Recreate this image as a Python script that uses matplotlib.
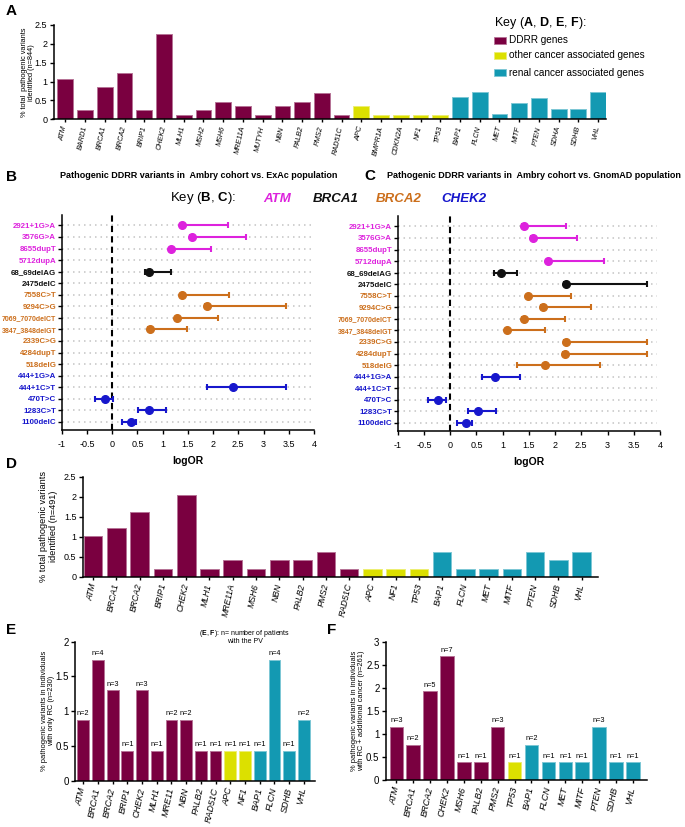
import numpy as np
import matplotlib
matplotlib.use("Agg")
import matplotlib.pyplot as plt
from matplotlib.patches import Rectangle

plt.rcParams['font.family'] = ['Liberation Sans', 'DejaVu Sans']
plt.rcParams['mathtext.fontset'] = 'custom'
plt.rcParams['mathtext.rm'] = 'Liberation Sans'
plt.rcParams['mathtext.bf'] = 'Liberation Sans:bold'
plt.rcParams['mathtext.it'] = 'Liberation Sans:italic'

# colours
ddrr_col = "#7a0040"
other_col = "#dce000"
renal_col = "#1399b2"
group_col = {"ddrr": ddrr_col, "other": other_col, "renal": renal_col}
gene_col = {"ATM": "#dd22dd", "BRCA1": "#111111", "BRCA2": "#cc6f1c", "CHEK2": "#1717cc"}

# panel A
a_genes = ['ATM', 'BARD1', 'BRCA1', 'BRCA2', 'BRIP1', 'CHEK2', 'MLH1', 'MSH2', 'MSH6', 'MRE11A',
           'MUTYH', 'NBN', 'PALB2', 'PMS2', 'RAD51C', 'APC', 'BMPR1A', 'CDKN2A', 'NF1', 'TP53',
           'BAP1', 'FLCN', 'MET', 'MITF', 'PTEN', 'SDHA', 'SDHB', 'VHL']
a_vals = [1.07, 0.24, 0.85, 1.23, 0.24, 2.25, 0.12, 0.24, 0.47, 0.36,
          0.12, 0.36, 0.47, 0.71, 0.12, 0.36, 0.12, 0.12, 0.12, 0.12,
          0.60, 0.72, 0.13, 0.42, 0.57, 0.27, 0.27, 0.72]
a_groups = ['ddrr'] * 15 + ['other'] * 5 + ['renal'] * 8

# panel D
d_genes = ['ATM', 'BRCA1', 'BRCA2', 'BRIP1', 'CHEK2', 'MLH1', 'MRE11A', 'MSH6', 'NBN', 'PALB2',
           'PMS2', 'RAD51C', 'APC', 'NF1', 'TP53', 'BAP1', 'FLCN', 'MET', 'MITF', 'PTEN', 'SDHB', 'VHL']
d_vals = [1.02, 1.22, 1.63, 0.20, 2.04, 0.20, 0.41, 0.20, 0.41, 0.41,
          0.61, 0.20, 0.20, 0.20, 0.20, 0.61, 0.20, 0.20, 0.20, 0.61, 0.41, 0.61]
d_groups = ['ddrr'] * 12 + ['other'] * 3 + ['renal'] * 7

# panel E
e_genes = ['ATM', 'BRCA1', 'BRCA2', 'BRIP1', 'CHEK2', 'MLH1', 'MRE11', 'NBN', 'PALB2', 'RAD51C',
           'APC', 'NF1', 'BAP1', 'FLCN', 'SDHB', 'VHL']
e_vals = [0.87, 1.74, 1.30, 0.43, 1.30, 0.43, 0.87, 0.87, 0.43, 0.43, 0.43, 0.43, 0.43, 1.74, 0.43, 0.87]
e_n = [2, 4, 3, 1, 3, 1, 2, 2, 1, 1, 1, 1, 1, 4, 1, 2]
e_groups = ['ddrr'] * 10 + ['other'] * 2 + ['renal'] * 4

# panel F
f_genes = ['ATM', 'BRCA1', 'BRCA2', 'CHEK2', 'MSH6', 'PALB2', 'PMS2', 'TP53', 'BAP1', 'FLCN',
           'MET', 'MITF', 'PTEN', 'SDHB', 'VHL']
f_vals = [1.15, 0.77, 1.92, 2.68, 0.38, 0.38, 1.15, 0.38, 0.77, 0.38, 0.38, 0.38, 1.15, 0.38, 0.38]
f_n = [3, 2, 5, 7, 1, 1, 3, 1, 2, 1, 1, 1, 3, 1, 1]
f_groups = ['ddrr'] * 7 + ['other'] * 1 + ['renal'] * 7

# panels B, C
variants = ['2921+1G>A', '3576G>A', '8655dupT', '5712dupA', '68_69delAG', '2475delC', '7558C>T',
            '9294C>G', '7069_7070delCT', '3847_3848delGT', '2339C>G', '4284dupT', '518delG',
            '444+1G>A', '444+1C>T', '470T>C', '1283C>T', '1100delC']
variant_gene = ['ATM'] * 4 + ['BRCA1'] * 2 + ['BRCA2'] * 7 + ['CHEK2'] * 5
nan = np.nan
b_or = [1.39, 1.58, 1.17, nan, 0.73, nan, 1.39, 1.87, 1.29, 0.74, nan, nan, nan, nan, 2.39, -0.15, 0.73, 0.38]
b_lo = [1.36, 1.55, 1.14, nan, 0.65, nan, 1.36, 1.84, 1.26, 0.71, nan, nan, nan, nan, 1.87, -0.34, 0.51, 0.20]
b_hi = [2.29, 2.65, 1.95, nan, 1.17, nan, 2.32, 3.45, 2.10, 1.48, nan, nan, nan, nan, 3.45, 0.02, 1.06, 0.48]
c_or = [1.40, 1.58, nan, 1.87, 0.96, 2.20, 1.49, 1.77, 1.40, 1.09, 2.20, 2.18, 1.81, 0.86, nan, -0.23, 0.54, 0.31]
c_lo = [1.37, 1.55, nan, 1.84, 0.84, 2.17, 1.46, 1.74, 1.37, 1.06, 2.17, 2.15, 1.28, 0.61, nan, -0.42, 0.34, 0.13]
c_hi = [2.20, 2.41, nan, 2.94, 1.28, 3.75, 2.30, 2.68, 2.18, 1.81, 3.75, 3.75, 2.86, 1.33, nan, -0.08, 0.87, 0.42]

W, H = 685, 827
fig = plt.figure(figsize=(W / 100, H / 100), dpi=100)


def box(l, t, r, b):
    return [l / W, 1 - b / H, (r - l) / W, (b - t) / H]


def lighten(c, f=0.45):
    rgb = np.array(matplotlib.colors.to_rgb(c))
    return tuple(rgb + (1 - rgb) * f)


def style_axes(ax):
    for s in ['top', 'right']:
        ax.spines[s].set_visible(False)
    for s in ['left', 'bottom']:
        ax.spines[s].set_linewidth(1.1)
    ax.tick_params(direction='out', length=3, width=1, pad=1.5)


def bar_panel(ax, genes, vals, groups, xl, ylim, yticks, ytl, tick_fs, lab_fs, n_labels=None):
    x = np.arange(len(genes))
    cols = [group_col[g] for g in groups]
    ax.bar(x, vals, width=0.8, color=cols, edgecolor=[lighten(c) for c in cols], linewidth=0.7)
    ax.set_xlim(xl)
    ax.set_ylim(ylim)
    ax.set_yticks(yticks)
    ax.set_yticklabels(ytl, fontsize=lab_fs)
    ax.set_xticks(x)
    ax.set_xticklabels(genes, rotation=78, ha='right', va='center', rotation_mode='anchor',
                       fontsize=tick_fs, style='italic')
    style_axes(ax)
    ax.tick_params(axis='x', length=2, pad=3)
    if n_labels is not None:
        for xi, v, n in zip(x, vals, n_labels):
            ax.text(xi, v + 0.02 * (ylim[1] - ylim[0]), "n=%d" % n, ha='center', va='bottom', fontsize=5.3)


# ---- A ----
axA = fig.add_axes(box(53.5, 25, 606, 119.3))
bar_panel(axA, a_genes, a_vals, a_groups, (-0.6, 27.4), (0, 2.5),
          [0, 0.5, 1, 1.5, 2, 2.5], ['0', '0.5', '1', '1.5', '2', '2.5'], 5.2, 6.5)
axA.set_ylabel("% total  pathogenic variants\nidentified (n=844)", fontsize=5.3, linespacing=1.1)
axA.yaxis.set_label_coords(-0.033, 0.5)
fig.text(6 / W, 1 - 11 / H, "A", fontsize=11, fontweight='bold', va='center')

fig.text(494 / W, 1 - 23 / H, r"Key ($\mathbf{A}$, $\mathbf{D}$, $\mathbf{E}$, $\mathbf{F}$):",
         fontsize=9, va='center')
for yy, g, lab in [(40, 'ddrr', 'DDRR genes'), (55.5, 'other', 'other cancer associated genes'),
                   (72.5, 'renal', 'renal cancer associated genes')]:
    fig.add_artist(Rectangle((494 / W, 1 - (yy + 3.5) / H), 12 / W, 7 / H,
                             facecolor=group_col[g], edgecolor=lighten(group_col[g]), lw=0.6,
                             transform=fig.transFigure))
    fig.text(509 / W, 1 - yy / H, lab, fontsize=7.2, va='center')


# ---- B, C ----
def forest(ax, orv, lo, hi):
    y = np.arange(len(variants))
    for yi in y:
        ax.plot([-1, 3.95], [yi, yi], color='#c4c4c4', lw=1.1, ls=(0, (1, 2.6)), zorder=0)
    ax.axvline(0, color='black', lw=1.5, ls=(0, (3, 2)), zorder=1)
    for yi, o, l, h, g in zip(y, orv, lo, hi, variant_gene):
        if np.isnan(o):
            continue
        ax.errorbar([o], [yi], xerr=[[o - l], [h - o]], fmt='o', color=gene_col[g], ms=5.5,
                    elinewidth=1.5, capsize=2.2, capthick=1.5, zorder=3)
    ax.set_xlim(-1, 4)
    ax.set_ylim(17.7, -0.9)
    ax.set_xticks(np.arange(-1, 4.01, 0.5))
    ax.set_xticklabels(['-1', '-0.5', '0', '0.5', '1', '1.5', '2', '2.5', '3', '3.5', '4'], fontsize=6.5)
    ax.set_yticks(y)
    ax.set_yticklabels(variants, fontweight='bold')
    for t, g, v in zip(ax.get_yticklabels(), variant_gene, variants):
        t.set_color(gene_col[g])
        t.set_fontsize(5.0 if len(v) > 12 else 5.7)
    style_axes(ax)
    ax.tick_params(axis='x', pad=4)
    ax.tick_params(axis='y', pad=1)
    ax.set_xlabel("logOR", fontsize=7.5, fontweight='bold', labelpad=5)


axB = fig.add_axes(box(61.7, 215, 314, 430))
forest(axB, b_or, b_lo, b_hi)
axC = fig.add_axes(box(397.7, 216, 660, 431))
forest(axC, c_or, c_lo, c_hi)

fig.text(6 / W, 1 - 177 / H, "B", fontsize=11, fontweight='bold', va='center')
fig.text(199 / W, 1 - 175 / H, "Pathogenic DDRR variants in  Ambry cohort vs. ExAc population",
         fontsize=6.5, fontweight='bold', ha='center', va='center')
fig.text(364 / W, 1 - 176 / H, "C", fontsize=11, fontweight='bold', va='center')
fig.text(534 / W, 1 - 175 / H, "Pathogenic DDRR variants in  Ambry cohort vs. GnomAD population",
         fontsize=6.5, fontweight='bold', ha='center', va='center')

fig.text(170.5 / W, 1 - 198.5 / H, r"Key ($\mathbf{B}$, $\mathbf{C}$):", fontsize=9.5, va='center')
for xx, g in [(263, 'ATM'), (313, 'BRCA1'), (376, 'BRCA2'), (441, 'CHEK2')]:
    fig.text(xx / W, 1 - 198.5 / H, g, fontsize=9.5, fontweight='bold', style='italic',
             color=gene_col[g], va='center')

# ---- D ----
axD = fig.add_axes(box(82.7, 476.7, 598, 576.7))
bar_panel(axD, d_genes, d_vals, d_groups, (-0.45, 21.7), (0, 2.5),
          [0, 0.5, 1, 1.5, 2, 2.5], ['0', '0.5', '1', '1.5', '2', '2.5'], 6.2, 6.5)
axD.set_ylabel("% total pathogenic variants\nidentified (n=491)", fontsize=6.6, linespacing=1.1)
axD.yaxis.set_label_coords(-0.048, 0.5)
fig.text(6 / W, 1 - 464 / H, "D", fontsize=11, fontweight='bold', va='center')

# ---- E ----
axE = fig.add_axes(box(75, 641.7, 315, 780.7))
bar_panel(axE, e_genes, e_vals, e_groups, (-0.56, 15.76), (0, 2),
          [0, 0.5, 1, 1.5, 2], ['0', '0.5', '1', '1.5', '2'], 6.5, 7, n_labels=e_n)
axE.set_ylabel("% pathogenic variants in individuals\nwith only RC (n=230)", fontsize=5.4, linespacing=1.1)
axE.yaxis.set_label_coords(-0.083, 0.5)
fig.text(6 / W, 1 - 630 / H, "E", fontsize=11, fontweight='bold', va='center')
fig.text(245 / W, 1 - 633.5 / H, r"($\mathbf{E}$, $\mathbf{F}$): n= number of patients", fontsize=5,
         ha='center', va='center')
fig.text(245 / W, 1 - 641.5 / H, "with the PV", fontsize=5, ha='center', va='center')

# ---- F ----
axF = fig.add_axes(box(385.7, 641.7, 646.7, 780))
bar_panel(axF, f_genes, f_vals, f_groups, (-0.63, 14.82), (0, 3),
          [0, 0.5, 1, 1.5, 2, 2.5, 3], ['0', '0.5', '1', '1.5', '2', '2.5', '3'], 6.5, 7, n_labels=f_n)
axF.set_ylabel("% pathogenic variants in individuals\nwith RC + additional cancer (n=261)", fontsize=5.4,
               linespacing=1.1)
axF.yaxis.set_label_coords(-0.079, 0.5)
fig.text(327 / W, 1 - 630 / H, "F", fontsize=11, fontweight='bold', va='center')

fig.savefig("out.png", dpi=100)
